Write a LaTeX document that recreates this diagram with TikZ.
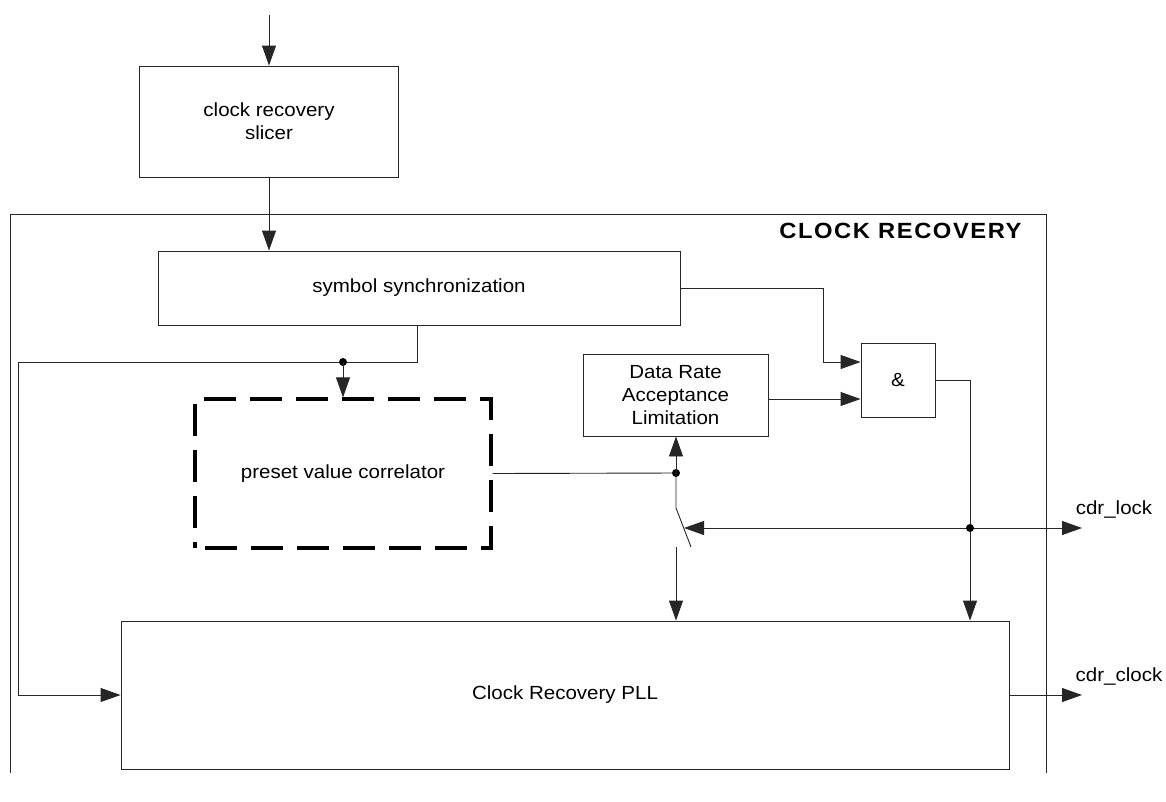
\documentclass[tikz,border=0pt]{standalone}
\usepackage{fontspec}
\setmainfont{Liberation Sans}[FakeStretch=1.08]
\usetikzlibrary{arrows.meta}
\begin{document}
\begin{tikzpicture}[x=1pt,y=-1pt,
  every node/.style={font=\fontsize{19}{23}\selectfont, text=black},
  ln/.style={draw=black!85, line width=0.9pt},
  arr/.style={ln, -{Triangle[length=20pt,width=14pt]}},
  box/.style={ln, rectangle, inner sep=0pt, align=center},
  dashbox/.style={draw=black, line width=3.2pt, dash pattern=on 32pt off 14pt, dash phase=-10pt, rectangle, inner sep=0pt, align=center},
  dot/.style={circle, fill=black, inner sep=0pt, minimum size=8pt}
]
\useasboundingbox (0,0) rectangle (1166,801);

% outer frame
\draw[ln] (10,773) -- (10,214) -- (1046,214) -- (1046,773);
\node[anchor=east, font=\bfseries\fontsize{22}{26}\selectfont\addfontfeatures{LetterSpace=7}] (title) at (1025,231) {CLOCK RECOVERY};

% boxes
\node[box, minimum width=259pt, minimum height=111pt] (slicer) at (269,121.5) {clock recovery\\slicer};
\node[box, minimum width=522pt, minimum height=74pt] (sync) at (419,288) {symbol synchronization};
\node[box, minimum width=185pt, minimum height=82pt] (dr) at (675.5,395) {Data Rate\\Acceptance\\Limitation};
\node[box, minimum width=74pt, minimum height=74pt] (and) at (898,380) {\&};
\node[dashbox, minimum width=296pt, minimum height=149pt] (pvc) at (343,473.5) {preset value correlator};
\node[box, minimum width=888pt, minimum height=148pt] (pll) at (565,695) {Clock Recovery PLL};

% coordinates
\coordinate (in) at (269,15);
\coordinate (a1) at (823,362);
\coordinate (a2) at (768,399);
\coordinate (s1) at (417,362);
\coordinate (l1) at (18,362);
\coordinate (lockdot) at (970,528);
\coordinate (lockout) at (1082,528);
\coordinate (swtip) at (684,528);
\coordinate (sw1) at (676,508);
\coordinate (sw2) at (691,547);
\coordinate (sw3) at (676,547);
\coordinate (clkout) at (1082,695);

% connectors
\draw[arr] (in) -- (slicer.north);
\draw[arr] (slicer.south) -- (slicer.south |- sync.north);
\draw[arr] (sync.east) -| (a1) -- (a1 -| and.west);
\draw[arr] (a2) -- (a2 -| and.west);
\draw[arr] (and.east) -| (lockdot) -- (lockdot |- pll.north);
\draw[ln, {Triangle[length=20pt,width=14pt]}-{Triangle[length=20pt,width=14pt]}] (swtip) -- (lockout);
\node[dot] (d3) at (lockdot) {};
\node (lock) at (1114,509) {cdr\_lock};

\draw[arr] (sync.south -| s1) -- (s1) -- (l1) |- (pll.west);
\node[dot] (d1) at (343,362) {};
\draw[arr] (d1.center) -- (d1.center |- pvc.north);

\node[dot] (d2) at (676,473) {};
\draw[ln] (pvc.east) -- (d2.center);
\draw[arr] (d2.center) -- (d2.center |- dr.south);
\draw[ln] (d2.center) -- (sw1) -- (sw2);
\draw[arr] (sw3) -- (sw3 |- pll.north);

\draw[arr] (pll.east) -- (clkout);
\node (clock) at (1119,676) {cdr\_clock};
\end{tikzpicture}
\end{document}
